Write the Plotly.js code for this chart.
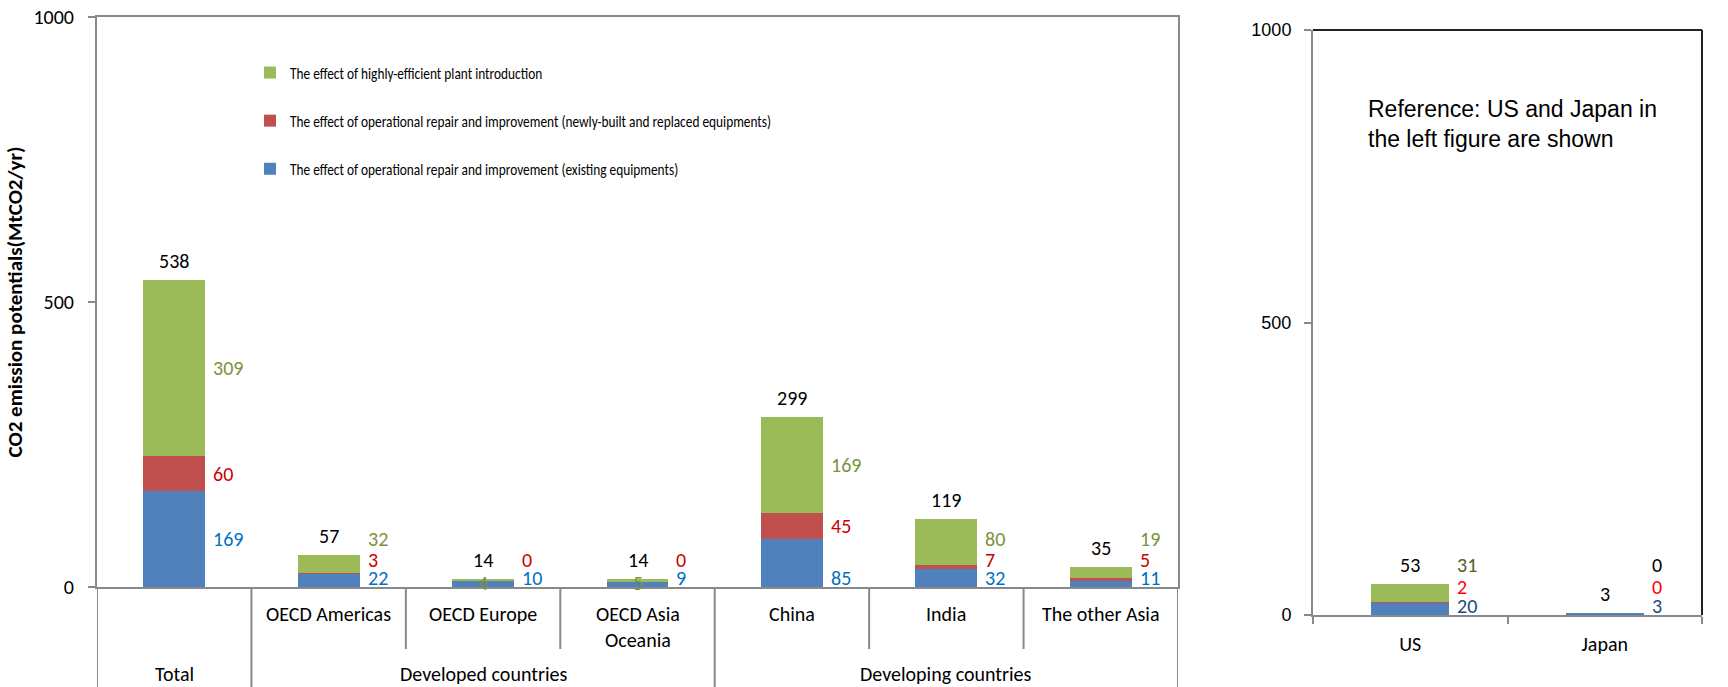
<!DOCTYPE html>
<html>
<head>
<meta charset="utf-8">
<script src="https://cdn.plot.ly/plotly-3.0.1.min.js"></script>
<style>html,body{margin:0;padding:0;background:#fff;}#chart{width:1728px;height:687px;}</style>
</head>
<body>
<div id="chart"></div>
<script>
// ---------- data ----------
const categories = ['Total', 'OECD Americas', 'OECD Europe', 'OECD Asia Oceania', 'China', 'India', 'The other Asia'];
const categoryLabels = ['Total', 'OECD Americas', 'OECD Europe', 'OECD Asia<br>Oceania', 'China', 'India', 'The other Asia'];
const groupLabels = ['Total', 'Developed countries', 'Developing countries'];
const existingEquip = [169, 22, 10, 9, 85, 32, 11];
const newBuiltEquip = [60, 3, 0, 0, 45, 7, 5];
const highEffPlant = [309, 32, 4, 5, 169, 80, 19];
const totals = [538, 57, 14, 14, 299, 119, 35];

const refCategories = ['US', 'Japan'];
const refExisting = [20, 3];
const refNewBuilt = [2, 0];
const refHighEff = [31, 0];
const refTotals = [53, 3];

const seriesNames = [
  'The effect of operational repair and improvement (existing equipments)',
  'The effect of operational repair and improvement (newly-built and replaced equipments)',
  'The effect of highly-efficient plant introduction'
];
const yTickVals = [0, 500, 1000];
const refNote = 'Reference: US and Japan in<br>the left figure are shown';

// ---------- styles ----------
const C_BLUE = '#4F81BD', C_RED = '#C0504D', C_GREEN = '#9BBB59';
const FONT = 'Carlito, Lato, sans-serif';
const ARIAL = 'Liberation Sans, Arial, sans-serif';
const AX = '#898989';
const H = 687, W = 1728;
const px = v => 1 - v / H;
const LBL = 20;

const traces = [];
const barColors = [C_BLUE, C_RED, C_GREEN];
[existingEquip, newBuiltEquip, highEffPlant].forEach((vals, k) => {
  traces.push({
    type: 'bar', x: categories, y: vals, name: seriesNames[k],
    marker: {color: barColors[k], line: {width: 0}},
    legendgroup: 'g' + k, legendrank: 3 - k, hoverinfo: 'y', xaxis: 'x', yaxis: 'y'
  });
});
[refExisting, refNewBuilt, refHighEff].forEach((vals, k) => {
  traces.push({
    type: 'bar', x: refCategories, y: vals, name: seriesNames[k],
    marker: {color: barColors[k], line: {width: 0}},
    showlegend: false, hoverinfo: 'y', xaxis: 'x2', yaxis: 'y2'
  });
});

const annotations = [];
const shapes = [];
const halfBar = 0.2;

function segLabels(xr, yr, blue, red, green, total, colors, i, greenColorFn) {
  annotations.push({xref: xr, yref: yr, x: i, y: total, text: String(total), showarrow: false,
    yanchor: 'middle', yshift: 19, font: {family: FONT, size: LBL, color: '#000'}});
  const blueY = blue >= 150 ? blue / 2 : 15;
  const redY = Math.max(blue + red / 2, blueY + 33);
  annotations.push({xref: xr, yref: yr, x: i + halfBar, y: blueY, text: String(blue), showarrow: false,
    xanchor: 'left', xshift: 6, font: {family: FONT, size: LBL, color: colors[0]}});
  annotations.push({xref: xr, yref: yr, x: i + halfBar, y: redY, text: String(red), showarrow: false,
    xanchor: 'left', xshift: 6, font: {family: FONT, size: LBL, color: colors[1]}});
  if (green > 0 && green < 8) {
    annotations.push({xref: xr, yref: yr, x: i, y: blue + red + green / 2 - 5, text: String(green), showarrow: false,
      xanchor: 'center', font: {family: FONT, size: LBL, color: colors[2]}});
  } else {
    const greenY = Math.max(blue + red + green / 2, redY + 37);
    annotations.push({xref: xr, yref: yr, x: i + halfBar, y: greenY, text: String(green), showarrow: false,
      xanchor: 'left', xshift: 6, font: {family: FONT, size: LBL, color: greenColorFn ? greenColorFn(green) : colors[2]}});
  }
}

categories.forEach((c, i) => segLabels('x', 'y', existingEquip[i], newBuiltEquip[i], highEffPlant[i], totals[i],
  ['#0070C0', '#CC0000', '#77933C'], i));
refCategories.forEach((c, i) => segLabels('x2', 'y2', refExisting[i], refNewBuilt[i], refHighEff[i], refTotals[i],
  ['#1F497D', '#FF0000', '#4F6228'], i, g => g === 0 ? '#000' : '#4F6228'));

// category labels (row 1)
categoryLabels.forEach((lab, i) => {
  if (i === 0) return;
  annotations.push({xref: 'x', yref: 'paper', x: i, y: px(600), yanchor: 'top', text: lab, showarrow: false,
    font: {family: FONT, size: LBL, color: '#000'}});
});
// group labels (row 2)
const groupCenters = [0, 2, 5];
groupLabels.forEach((lab, k) => {
  annotations.push({xref: 'x', yref: 'paper', x: groupCenters[k], y: 0, yanchor: 'bottom', borderpad: 0, text: lab, showarrow: false,
    font: {family: FONT, size: LBL, color: '#000'}});
});
// note in right chart
annotations.push({xref: 'paper', yref: 'paper', x: 1366 / W, y: px(94), xanchor: 'left', yanchor: 'top', align: 'left',
  text: refNote, showarrow: false, font: {family: ARIAL, size: 23, color: '#000'}});

// category separators below axis
const yAxisPaper = px(587);
[-0.5, 0.5, 3.5, 6.5].forEach(b => shapes.push({type: 'line', xref: 'x', yref: 'paper', x0: b, x1: b, y0: yAxisPaper, y1: 0,
  line: {color: AX, width: 2}}));
[1.5, 2.5, 4.5, 5.5].forEach(b => shapes.push({type: 'line', xref: 'x', yref: 'paper', x0: b, x1: b, y0: yAxisPaper, y1: px(649),
  line: {color: AX, width: 2}}));
// right chart top and right borders
shapes.push({type: 'line', xref: 'x2 domain', yref: 'y2 domain', x0: 0, x1: 1, y0: 1, y1: 1, line: {color: '#222', width: 2}});
shapes.push({type: 'line', xref: 'x2 domain', yref: 'y2 domain', x0: 1, x1: 1, y0: 0, y1: 1, line: {color: '#222', width: 2}});

const layout = {
  width: W, height: H, autosize: false,
  margin: {l: 0, r: 0, t: 0, b: 0},
  paper_bgcolor: '#fff', plot_bgcolor: '#fff',
  barmode: 'stack', bargap: 0.6,
  font: {family: FONT, color: '#000'},
  showlegend: true,
  legend: {x: 250 / W, y: px(55), xanchor: 'left', yanchor: 'top', traceorder: 'grouped',
    tracegroupgap: 23, font: {family: FONT, size: 17, color: '#000'}, bgcolor: 'rgba(0,0,0,0)'},
  xaxis: {domain: [97 / W, 1178 / W], type: 'category', range: [-0.5, 6.5], showticklabels: false, ticks: '',
    showline: true, mirror: true, linecolor: AX, linewidth: 2, showgrid: false, zeroline: false, fixedrange: true},
  yaxis: {domain: [px(587), px(17)], range: [0, 1000], tickvals: yTickVals, ticks: 'outside', ticklen: 7, tickwidth: 2,
    tickcolor: AX, showline: true, mirror: true, linecolor: AX, linewidth: 2, showgrid: false, zeroline: false,
    ticklabelstandoff: 10, tickfont: {family: FONT, size: 20, color: '#000'},
    title: {text: 'CO2 emission potentials(MtCO2/yr)', standoff: 5, font: {family: FONT, size: 21, color: '#000', weight: 'bold'}}},
  xaxis2: {domain: [1313 / W, 1702 / W], type: 'category', range: [-0.5, 1.5], anchor: 'y2', ticks: 'outside', tickson: 'boundaries',
    ticklen: 7, tickwidth: 2, tickcolor: AX, showline: true, linecolor: AX, linewidth: 2, showgrid: false, zeroline: false,
    ticklabelstandoff: 10, tickfont: {family: FONT, size: LBL, color: '#000'}},
  yaxis2: {domain: [px(615), px(30)], anchor: 'x2', range: [0, 1000], tickvals: yTickVals, ticks: 'outside', ticklen: 7, tickwidth: 2,
    tickcolor: AX, showline: true, linecolor: AX, linewidth: 2, showgrid: false, zeroline: false, ticklabelstandoff: 9,
    tickfont: {family: ARIAL, size: 18, color: '#000'}},
  annotations: annotations,
  shapes: shapes
};

Plotly.newPlot('chart', traces, layout, {displayModeBar: false, staticPlot: true}).then(gd => {
  // the reference legend uses horizontally condensed lettering
  gd.querySelectorAll('.legendtext').forEach(t => {
    const len = t.getComputedTextLength();
    t.setAttribute('textLength', (len * 0.785).toFixed(1));
    t.setAttribute('lengthAdjust', 'spacingAndGlyphs');
  });
});
</script>
</body>
</html>
